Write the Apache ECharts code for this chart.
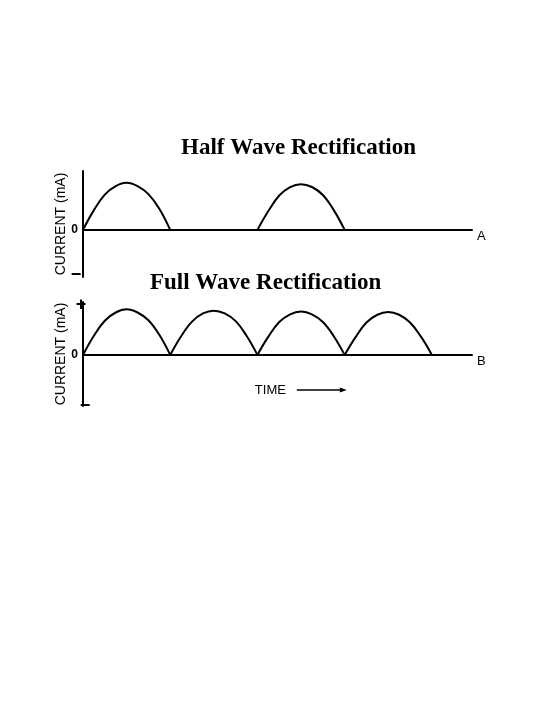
<!DOCTYPE html>
<html>
<head>
<meta charset="utf-8">
<script src="https://cdn.jsdelivr.net/npm/echarts@6/dist/echarts.min.js"></script>
<style>
  html, body { margin: 0; padding: 0; background: #fff; }
  #chart { width: 540px; height: 720px; }
</style>
</head>
<body>
<div id="chart"></div>
<script>
// ---- data (time in half-cycles, current relative to peak) ----
const titles = ['Half Wave Rectification', 'Full Wave Rectification'];
const yAxisName = 'CURRENT (mA)';
const traceNames = ['A', 'B'];
const timeLabel = 'TIME';

const humpPhase = [0, 0.125, 0.25, 0.375, 0.5, 0.625, 0.75, 0.875, 1];

const halfWaveStarts = [0, 2];
const halfWaveHumps = [
  [0, 0.42, 0.75, 0.93, 1.00, 0.93, 0.76, 0.45, 0],
  [0, 0.40, 0.73, 0.91, 0.97, 0.91, 0.74, 0.42, 0]
];

const fullWaveStarts = [0, 1, 2, 3];
const fullWaveHumps = [
  [0, 0.42, 0.75, 0.93, 1.00, 0.93, 0.76, 0.44, 0],
  [0, 0.41, 0.73, 0.91, 0.97, 0.91, 0.74, 0.42, 0],
  [0, 0.40, 0.72, 0.89, 0.95, 0.89, 0.72, 0.41, 0],
  [0, 0.39, 0.71, 0.88, 0.94, 0.88, 0.71, 0.40, 0]
];

// ---- chart ----
const chart = echarts.init(document.getElementById('chart'), null, { renderer: 'canvas' });

function humpSeries(starts, humps, gi) {
  return starts.map((s, h) => ({
    type: 'line',
    xAxisIndex: gi,
    yAxisIndex: gi,
    smooth: 0.4,
    showSymbol: false,
    silent: true,
    lineStyle: { color: '#000', width: 2 },
    data: humpPhase.map((p, i) => [s + p, humps[h][i]])
  }));
}

function xAx(gi, name) {
  return {
    type: 'value', gridIndex: gi, min: 0, max: 4.46,
    axisLine: { show: true, onZero: true, lineStyle: { color: '#000', width: 2 } },
    axisTick: { show: false }, axisLabel: { show: false }, splitLine: { show: false },
    name: name, nameLocation: 'end', nameGap: 5,
    nameTextStyle: { fontFamily: 'Liberation Sans', fontSize: 13, color: '#000', verticalAlign: 'top', padding: [0, 0, 0, 0] }
  };
}
function yAx(gi, min, max) {
  return {
    type: 'value', gridIndex: gi, min: min, max: max,
    axisLine: { show: true, onZero: false, lineStyle: { color: '#000', width: 2 } },
    axisTick: { show: false },
    splitLine: { show: false },
    axisLabel: {
      show: true, customValues: [0], margin: 5,
      formatter: v => '0',
      fontFamily: 'Liberation Sans', fontWeight: 'bold', fontSize: 12, color: '#000'
    },
    name: yAxisName, nameLocation: 'middle', nameRotate: 90, nameGap: 15,
    nameMoveOverlap: false,
    nameTextStyle: { fontFamily: 'Liberation Sans', fontSize: 14, color: '#000' }
  };
}

const titleStyle = { fontFamily: 'Liberation Serif', fontWeight: 'bold', fontSize: 23, color: '#000' };

chart.setOption({
  backgroundColor: '#fff',
  animation: false,
  title: [
    { text: titles[0], left: 181, top: 137, padding: 0, textStyle: titleStyle },
    { text: titles[1], left: 150, top: 272, padding: 0, textStyle: titleStyle }
  ],
  grid: [
    { left: 83, width: 389, top: 171, height: 106 },
    { left: 83, width: 389, top: 302, height: 104 }
  ],
  xAxis: [xAx(0, traceNames[0]), xAx(1, traceNames[1])],
  yAxis: [yAx(0, -1, 1.25), yAx(1, -1.12, 1.16)],
  series: humpSeries(halfWaveStarts, halfWaveHumps, 0).concat(humpSeries(fullWaveStarts, fullWaveHumps, 1))
});

// annotations placed from the axes' own scales
const pTopMinus = chart.convertToPixel({ gridIndex: 0 }, [0, -0.95]);
const pPlus = chart.convertToPixel({ gridIndex: 1 }, [0, 1.12]);
const pMinus = chart.convertToPixel({ gridIndex: 1 }, [0, -1.12]);
const pTime = chart.convertToPixel({ gridIndex: 1 }, [1.97, -0.77]);
const arrowStart = pTime[0] + 42, arrowEnd = pTime[0] + 92;
const markFont = 'bold 18px "Liberation Sans"';

chart.setOption({
  graphic: [
    { type: 'text', x: pTopMinus[0] - 7, y: pTopMinus[1], style: { text: '\u2212', font: markFont, fill: '#000', align: 'center', verticalAlign: 'middle' } },
    { type: 'text', x: pPlus[0] - 2, y: pPlus[1] + 1, style: { text: '+', font: markFont, fill: '#000', align: 'center', verticalAlign: 'middle' } },
    { type: 'text', x: pMinus[0] + 2, y: pMinus[1], style: { text: '\u2212', font: markFont, fill: '#000', align: 'center', verticalAlign: 'middle' } },
    { type: 'text', x: pTime[0], y: pTime[1], style: { text: timeLabel, font: '13px "Liberation Sans"', fill: '#000', align: 'left', verticalAlign: 'middle' } },
    { type: 'line', shape: { x1: arrowStart, y1: pTime[1], x2: arrowEnd - 5, y2: pTime[1] }, style: { stroke: '#000', lineWidth: 1.5 } },
    { type: 'polygon', shape: { points: [[arrowEnd, pTime[1]], [arrowEnd - 7, pTime[1] - 2.5], [arrowEnd - 7, pTime[1] + 2.5]] }, style: { fill: '#000' } }
  ]
});
</script>
</body>
</html>
